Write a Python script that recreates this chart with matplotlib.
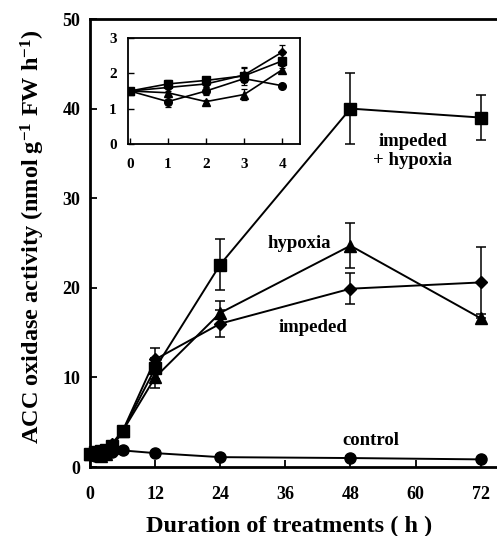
import numpy as np
import matplotlib
matplotlib.use("Agg")
import matplotlib.pyplot as plt

plt.rcParams['font.family'] = ['Liberation Serif', 'DejaVu Serif']
plt.rcParams['font.weight'] = 'bold'
plt.rcParams['mathtext.fontset'] = 'custom'
plt.rcParams['mathtext.rm'] = 'Liberation Serif:bold'
plt.rcParams['mathtext.bf'] = 'Liberation Serif:bold'
plt.rcParams['mathtext.default'] = 'bf'

# data
hours = [0, 1, 2, 3, 4, 6, 12, 24, 48, 72]
control = [1.5, 1.2, 1.5, 1.85, 1.65, 1.85, 1.55, 1.1, 1.0, 0.85]
impeded = [1.5, 1.6, 1.7, 1.95, 2.6, 4.0, 12.0, 16.0, 19.9, 20.6]
hypoxia = [1.5, 1.45, 1.2, 1.4, 2.1, 4.0, 10.0, 17.2, 24.7, 16.6]
imp_hyp = [1.5, 1.7, 1.8, 1.93, 2.35, 4.0, 11.0, 22.6, 40.0, 39.0]

control_err = [0.0, 0.15, 0.1, 0.1, 0.05, 0.1, 0.1, 0.2, 0.2, 0.1]
impeded_err = [0.0, 0.1, 0.1, 0.2, 0.2, 0.3, 1.3, 1.5, 1.7, 4.0]
hypoxia_err = [0.0, 0.1, 0.05, 0.15, 0.1, 0.3, 1.2, 1.3, 2.5, 0.5]
imp_hyp_err = [0.0, 0.1, 0.1, 0.25, 0.2, 0.3, 1.2, 2.8, 4.0, 2.5]

series = [
    (control, control_err, 'o'),
    (impeded, impeded_err, 'D'),
    (hypoxia, hypoxia_err, '^'),
    (imp_hyp, imp_hyp_err, 's'),
]

fig = plt.figure(figsize=(4.97, 5.36), dpi=100)
ax = fig.add_axes([90 / 497, 1 - 467 / 536, 407 / 497, 448 / 536])

for vals, err, mk in series:
    ms = 8 if mk != 'D' else 6
    ax.errorbar(hours, vals, yerr=err, color='black', marker=mk, ms=ms,
                lw=1.4, elinewidth=1.1, capsize=3.5, capthick=1.1, clip_on=False)

ax.set_xlim(0, 75)
ax.set_ylim(0, 50)
ax.set_xticks([0, 12, 24, 36, 48, 60, 72])
ax.set_yticks([0, 10, 20, 30, 40, 50])
ax.tick_params(direction='in', length=5, width=1.3, labelsize=13)
ax.tick_params(axis='x', pad=14)
ax.tick_params(axis='y', pad=7)
ax.spines['right'].set_visible(False)
for s in ['left', 'bottom', 'top']:
    ax.spines[s].set_linewidth(2.0)

ax.set_xlabel('Duration of treatments ( h )', fontsize=17.5, fontweight='bold')
ax.xaxis.set_label_coords(0.49, -0.108)
ax.set_ylabel('ACC oxidase activity (nmol g$^{-1}$ FW h$^{-1}$)', fontsize=17.5,
              fontweight='bold')
ax.yaxis.set_label_coords(-0.105, 0.514)

ax.text(59.5, 35.3, 'impeded\n+ hypoxia', ha='center', va='center', fontsize=13.5,
        fontweight='bold', linespacing=1.15)
ax.text(38.5, 24.9, 'hypoxia', ha='center', va='center', fontsize=13.5, fontweight='bold')
ax.text(41.1, 15.6, 'impeded', ha='center', va='center', fontsize=13.5, fontweight='bold')
ax.text(51.7, 3.0, 'control', ha='center', va='center', fontsize=13.5, fontweight='bold')

# inset: first 4 hours
ins = fig.add_axes([128 / 497, 1 - 144 / 536, 172 / 497, 106 / 536])
for vals, err, mk in series:
    ms = 5.5 if mk != 'D' else 4.5
    ins.errorbar(hours[:5], vals[:5], yerr=err[:5], color='black', marker=mk, ms=ms,
                 lw=1.2, elinewidth=0.9, capsize=2.5, capthick=0.9)
ins.set_xlim(-0.05, 4.47)
ins.set_ylim(0, 3)
ins.set_xticks([0, 1, 2, 3, 4])
ins.set_yticks([0, 1, 2, 3])
ins.tick_params(direction='in', length=4, width=1.0, labelsize=11)
ins.tick_params(axis='x', pad=10)
ins.tick_params(axis='y', pad=8)
for s in ins.spines.values():
    s.set_linewidth(1.3)

fig.savefig('out.png', dpi=100)
